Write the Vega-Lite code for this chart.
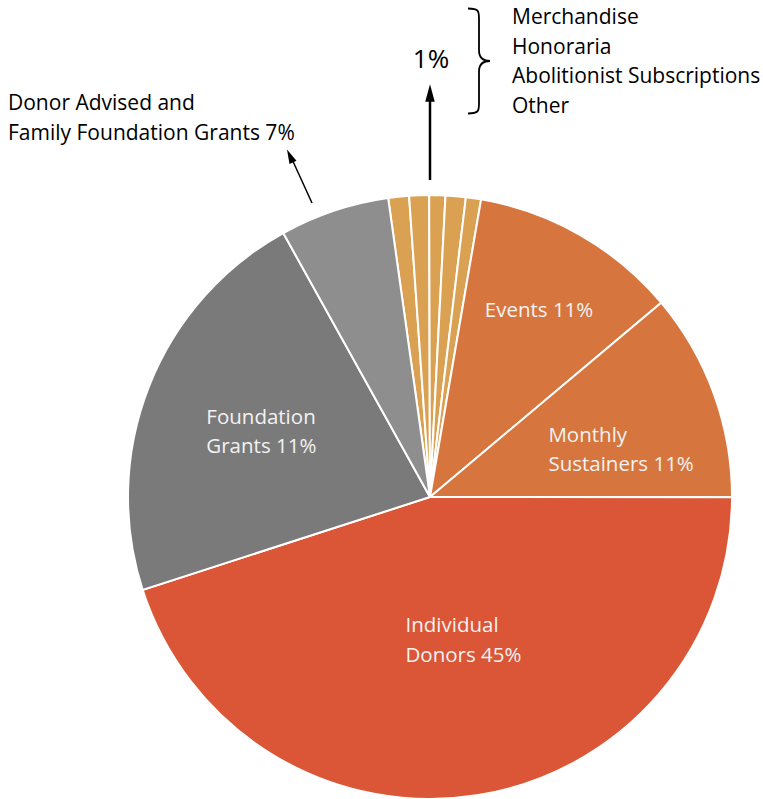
{
  "$schema": "https://vega.github.io/schema/vega-lite/v6.json",
  "width": 604,
  "height": 604,
  "autosize": {"type": "none"},
  "padding": {"left": 128, "top": 195, "right": 31, "bottom": 0},
  "background": "white",
  "config": {"view": {"stroke": null}, "font": "Open Sans"},
  "data": {
    "values": [
      {"i": 1, "cat": "Merchandise", "v": 1.11, "label": ""},
      {"i": 2, "cat": "Honoraria", "v": 1.06, "label": ""},
      {"i": 3, "cat": "Abolitionist Subscriptions", "v": 0.86, "label": ""},
      {"i": 4, "cat": "Other", "v": 1.08, "label": ""},
      {"i": 5, "cat": "Misc", "v": 0.81, "label": ""},
      {"i": 6, "cat": "Events", "v": 11.17, "label": "Events 11%"},
      {"i": 7, "cat": "Monthly Sustainers", "v": 11.14, "label": "Monthly\nSustainers 11%"},
      {"i": 8, "cat": "Individual Donors", "v": 45.0, "label": "Individual\nDonors 45%"},
      {"i": 9, "cat": "Foundation Grants", "v": 21.9, "label": "Foundation\nGrants 11%"},
      {"i": 10, "cat": "Donor Advised and Family Foundation Grants", "v": 5.86, "label": ""}
    ]
  },
  "layer": [
    {
      "mark": {"type": "arc", "stroke": "white", "strokeWidth": 2},
      "encoding": {
        "theta": {"field": "v", "type": "quantitative", "stack": true, "scale": {"range": [-0.1391, 6.1441]}},
        "order": {"field": "i", "type": "quantitative"},
        "color": {
          "field": "cat", "type": "nominal", "legend": null,
          "scale": {
            "domain": ["Merchandise", "Honoraria", "Abolitionist Subscriptions", "Other", "Misc", "Events", "Monthly Sustainers", "Individual Donors", "Foundation Grants", "Donor Advised and Family Foundation Grants"],
            "range": ["#DBA152", "#DBA152", "#DBA152", "#DBA152", "#DBA152", "#D6763E", "#D6763E", "#DA5636", "#7A7A7A", "#8E8E8E"]
          }
        }
      }
    },
    {
      "mark": {"type": "text", "radius": 215, "dx": 2, "align": "center", "baseline": "middle", "fontSize": 20.5, "color": "#F2F2F2", "lineBreak": "\n", "lineHeight": 29},
      "encoding": {
        "theta": {"field": "v", "type": "quantitative", "stack": true},
        "order": {"field": "i", "type": "quantitative"},
        "text": {"condition": {"test": "datum.cat === 'Events'", "field": "label", "type": "nominal"}, "value": ""}
      }
    },
    {
      "mark": {"type": "text", "radius": 126, "dy": -18, "align": "left", "baseline": "middle", "fontSize": 20.5, "color": "#F2F2F2", "lineBreak": "\n", "lineHeight": 29},
      "encoding": {
        "theta": {"field": "v", "type": "quantitative", "stack": true},
        "order": {"field": "i", "type": "quantitative"},
        "text": {"condition": {"test": "datum.cat === 'Monthly Sustainers'", "field": "label", "type": "nominal"}, "value": ""}
      }
    },
    {
      "mark": {"type": "text", "radius": 145, "dx": -47, "dy": -14, "align": "left", "baseline": "middle", "fontSize": 20.5, "color": "#F2F2F2", "lineBreak": "\n", "lineHeight": 30},
      "encoding": {
        "theta": {"field": "v", "type": "quantitative", "stack": true},
        "order": {"field": "i", "type": "quantitative"},
        "text": {"condition": {"test": "datum.cat === 'Individual Donors'", "field": "label", "type": "nominal"}, "value": ""}
      }
    },
    {
      "mark": {"type": "text", "radius": 177, "dx": -59, "dy": -14, "align": "left", "baseline": "middle", "fontSize": 20.5, "color": "#F2F2F2", "lineBreak": "\n", "lineHeight": 29},
      "encoding": {
        "theta": {"field": "v", "type": "quantitative", "stack": true},
        "order": {"field": "i", "type": "quantitative"},
        "text": {"condition": {"test": "datum.cat === 'Foundation Grants'", "field": "label", "type": "nominal"}, "value": ""}
      }
    },
    {
      "data": {"values": [{}]},
      "mark": {"type": "text", "text": "1%", "x": 303, "y": -135, "fontSize": 26, "align": "center", "baseline": "middle", "color": "black"},
      "encoding": {}
    },
    {
      "data": {"values": [{}]},
      "mark": {"type": "text", "text": ["Merchandise", "Honoraria", "Abolitionist Subscriptions", "Other"], "x": 384, "y": -177, "fontSize": 21, "lineHeight": 29.5, "align": "left", "baseline": "middle", "color": "black"},
      "encoding": {}
    },
    {
      "data": {"values": [{}]},
      "mark": {"type": "text", "text": ["Donor Advised and", "Family Foundation Grants 7%"], "x": -120, "y": -91, "fontSize": 21, "lineHeight": 30, "align": "left", "baseline": "middle", "color": "black"},
      "encoding": {}
    },
    {
      "data": {"values": [{}]},
      "mark": {"type": "rule", "strokeWidth": 2.5, "color": "black"},
      "encoding": {"x": {"value": 302}, "y": {"value": -15}, "x2": {"value": 302}, "y2": {"value": -97}}
    },
    {
      "data": {"values": [{}]},
      "mark": {"type": "rule", "strokeWidth": 1.5, "color": "black"},
      "encoding": {"x": {"value": 184}, "y": {"value": 8}, "x2": {"value": 163}, "y2": {"value": -38}}
    },
    {
      "data": {"values": [{}]},
      "mark": {"type": "point", "shape": "M0,-1L0.55,1L-0.55,1Z", "x": 302, "y": -102, "size": 300, "filled": true, "opacity": 1, "color": "black"},
      "encoding": {}
    },
    {
      "data": {"values": [{}]},
      "mark": {"type": "point", "shape": "M0,-1L0.55,1L-0.55,1Z", "x": 162, "y": -39, "size": 200, "angle": -25, "filled": true, "opacity": 1, "color": "black"},
      "encoding": {}
    },
    {
      "data": {"values": [{}]},
      "mark": {"type": "point", "shape": "M-0.21,-1C0,-1 0,-0.95 0,-0.8L0,-0.2C0,-0.05 0.1,0 0.21,0C0.1,0 0,0.05 0,0.2L0,0.8C0,0.95 0,1 -0.21,1", "x": 351, "y": -134, "size": 11025, "filled": false, "opacity": 1, "stroke": "black", "strokeWidth": 1.8},
      "encoding": {}
    }
  ]
}
